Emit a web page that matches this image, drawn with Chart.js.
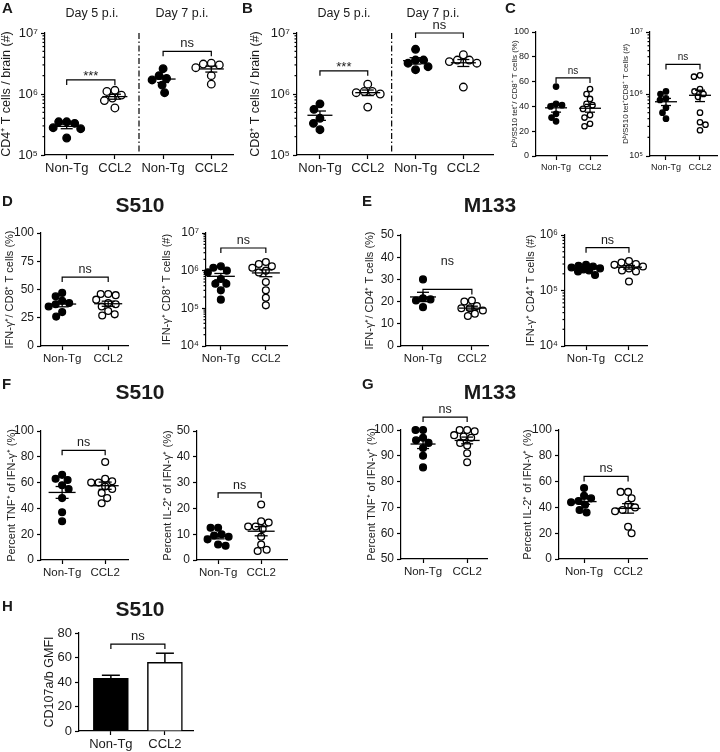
<!DOCTYPE html>
<html>
<head>
<meta charset="utf-8">
<script src="https://cdn.jsdelivr.net/npm/chart.js@4"></script>
<style>
  body { margin: 0; width: 720px; height: 752px; position: relative; overflow: hidden; background: #fff;
         font-family: "Liberation Sans", Arial, sans-serif; color: #1a1a1a; }
  canvas { position: absolute; }
  .lbl { position: absolute; white-space: nowrap; line-height: 1; }
</style>
</head>
<body>
<script>
// ---- data ----
const groups = ['Non-Tg', 'CCL2'];
const groupsDays = ['Non-Tg', 'CCL2', 'Non-Tg', 'CCL2'];

// A: CD4+ T cells / brain
const aD5NonTg = [3.3e5, 3.5e5, 3.5e5, 2.7e5, 2.8e5, 1.9e5];
const aD5Ccl2  = [1.1e6, 0.96e6, 1.15e6, 0.86e6, 0.78e6, 0.59e6];
const aD7NonTg = [2.6e6, 2.0e6, 1.8e6, 1.7e6, 1.4e6, 1.05e6];
const aD7Ccl2  = [3.2e6, 3.0e6, 3.1e6, 2.7e6, 2.0e6, 1.45e6];
// B: CD8+ T cells / brain
const bD5NonTg = [6.9e5, 5.6e5, 4.0e5, 3.3e5, 2.6e5];
const bD5Ccl2  = [1.1e6, 1.1e6, 1.05e6, 1.0e6, 1.45e6, 0.61e6];
const bD7NonTg = [5.4e6, 3.6e6, 3.6e6, 3.2e6, 2.8e6, 2.5e6];
const bD7Ccl2  = [3.6e6, 3.4e6, 3.2e6, 3.6e6, 4.4e6, 1.3e6];
// C: Db/S510 tet+ CD8+
const cPctNonTg = [56, 42, 41, 40, 34, 31, 28];
const cPctCcl2  = [54, 50, 46, 42, 41, 38, 33, 31, 26, 24];
const cNumNonTg = [1.1e6, 1.0e6, 0.85e6, 0.8e6, 0.6e6, 0.5e6, 0.4e6];
const cNumCcl2  = [2.0e6, 1.9e6, 1.2e6, 1.1e6, 1.0e6, 0.9e6, 0.5e6, 0.35e6, 0.32e6, 0.26e6];
// D: S510 IFN-g+ CD8+
const dPctNonTg = [47, 44, 40, 38, 37, 35, 30, 26];
const dPctCcl2  = [46, 46, 45, 41, 38, 37, 35, 31, 28, 27];
const dNumNonTg = [1.3e6, 1.2e6, 1.0e6, 0.9e6, 0.6e6, 0.45e6, 0.45e6, 0.3e6, 0.17e6];
const dNumCcl2  = [1.7e6, 1.5e6, 1.3e6, 1.2e6, 1.0e6, 0.9e6, 0.5e6, 0.3e6, 0.19e6, 0.12e6];
// E: M133 IFN-g+ CD4+
const ePctNonTg = [30, 21.5, 21, 20.5, 17.5];
const ePctCcl2  = [20.5, 20, 18, 17, 17, 16, 14.5, 13.5];
const eNumNonTg = [2.9e5, 2.8e5, 2.7e5, 2.6e5, 2.5e5, 2.4e5, 2.3e5, 2.2e5, 1.9e5];
const eNumCcl2  = [3.4e5, 3.2e5, 3.0e5, 2.9e5, 2.7e5, 2.5e5, 2.3e5, 2.2e5, 1.45e5];
// F: S510 TNF / IL-2 of IFN-g+
const fTnfNonTg = [63, 58, 62, 66, 55, 48, 37, 30];
const fTnfCcl2  = [76, 63, 61, 60, 60, 57, 55, 52, 48, 44];
const fIl2NonTg = [12.5, 12.5, 10, 9.5, 9, 8, 6, 5.5];
const fIl2Ccl2  = [21.5, 15, 14.5, 13, 13, 12, 9, 6, 4, 3.5];
// G: M133 TNF / IL-2 of IFN-g+
const gTnfNonTg = [100, 100, 97, 96, 95, 93, 90, 85.5];
const gTnfCcl2  = [100, 100, 99.5, 98, 97.5, 97, 95, 94, 91, 87.5];
const gIl2NonTg = [55, 49, 47, 45, 44, 42, 38, 36];
const gIl2Ccl2  = [52, 52, 47, 42, 40, 38, 37, 25, 20];
// H: CD107a/b GMFI (mean, SEM)
const hMean = [43, 56];
const hSem  = [2.5, 7.5];

const ink = '#1a1a1a';
Chart.defaults.font.family = '"Liberation Sans", Arial, sans-serif';
Chart.defaults.color = ink;
Chart.defaults.animation = false;

const supDigits = '⁰¹²³⁴⁵⁶⁷⁸⁹';
const sup = v => '10' + String(Math.round(Math.log10(v))).split('').map(d => supDigits[d]).join('');

function line(ctx, x1, y1, x2, y2) {
  ctx.beginPath(); ctx.moveTo(x1, y1); ctx.lineTo(x2, y2); ctx.stroke();
}

const figPlugin = {
  id: 'fig',
  // spread points sideways so they don't overlap (beeswarm), within a limited width
  afterDatasetsUpdate(chart, args, o) {
    if (!o.swarm) return;
    chart.data.datasets.forEach((ds, i) => {
      const els = chart.getDatasetMeta(i).data;
      const placed = [];
      const d = o.swarm;
      els.slice().sort((p, q) => p.y - q.y).forEach(el => {
        const cx = el.x;
        const pref = placed.length % 2 ? -1 : 1;
        let best = 0, bestDist = -1;
        search:
        for (let k = 0; k <= o.maxOff; k += 0.5) {
          for (const s of (k === 0 ? [0] : [pref * k, -pref * k])) {
            const md = placed.reduce((m, p) => Math.min(m, Math.hypot(p.x - cx - s, p.y - el.y)), Infinity);
            if (md >= d) { best = s; break search; }
            if (md > bestDist + 0.5) { bestDist = md; best = s; }
          }
        }
        el.x = cx + best;
        placed.push({x: el.x, y: el.y});
      });
    });
  },
  afterDatasetsDraw(chart, args, o) {
    const {ctx} = chart, xs = chart.scales.x, ys = chart.scales.y;
    ctx.save();
    ctx.strokeStyle = '#000';
    ctx.lineWidth = 1.3;
    (o.sets || []).forEach((vals, g) => {
      const n = vals.length, m = vals.reduce((s, v) => s + v, 0) / n;
      const se = Math.sqrt(vals.reduce((s, v) => s + (v - m) ** 2, 0) / (n - 1)) / Math.sqrt(n);
      const x = xs.getPixelForValue(g);
      const y = ys.getPixelForValue(m), y1 = ys.getPixelForValue(m - se), y2 = ys.getPixelForValue(m + se);
      line(ctx, x - o.mw, y, x + o.mw, y);
      line(ctx, x - o.cw, y1, x + o.cw, y1);
      line(ctx, x - o.cw, y2, x + o.cw, y2);
      line(ctx, x, y1, x, y2);
    });
    (o.errs || []).forEach((e, g) => {
      const x = xs.getPixelForValue(g);
      const y = ys.getPixelForValue(o.means[g]), y2 = ys.getPixelForValue(o.means[g] + e);
      ctx.lineWidth = 1.5;
      line(ctx, x, y, x, y2);
      line(ctx, x - o.cw, y2, x + o.cw, y2);
    });
    ctx.restore();
  },
  afterDraw(chart, args, o) {
    const {ctx, chartArea: ca} = chart, xs = chart.scales.x, ys = chart.scales.y;
    ctx.save();
    ctx.strokeStyle = '#000';
    ctx.lineWidth = 1.2;
    if (o.minor) {
      const e0 = Math.round(Math.log10(ys.min)), e1 = Math.round(Math.log10(ys.max));
      for (let e = e0; e < e1; e++) {
        for (let k = 2; k <= 9; k++) {
          const y = ys.getPixelForValue(k * 10 ** e);
          line(ctx, ca.left - 2.5, y, ca.left, y);
        }
      }
    }
    if (o.divider !== undefined) {
      ctx.setLineDash([6, 2.5, 1.5, 2.5]);
      const x = xs.getPixelForValue(o.divider);
      line(ctx, x, ca.top, x, ca.bottom);
      ctx.setLineDash([]);
    }
    (o.brackets || []).forEach(b => {
      const x1 = xs.getPixelForValue(b.a), x2 = xs.getPixelForValue(b.b), y = ys.getPixelForValue(b.y);
      ctx.beginPath();
      ctx.moveTo(x1, y + 5); ctx.lineTo(x1, y); ctx.lineTo(x2, y); ctx.lineTo(x2, y + 5);
      ctx.stroke();
      ctx.fillStyle = ink;
      ctx.font = `${o.bfs}px "Liberation Sans", Arial, sans-serif`;
      ctx.textAlign = 'center';
      if (b.ty !== undefined) {
        ctx.textBaseline = 'middle';
        ctx.fillText(b.text, (x1 + x2) / 2, ys.getPixelForValue(b.ty));
      } else {
        ctx.textBaseline = 'alphabetic';
        ctx.fillText(b.text, (x1 + x2) / 2, y - (b.text === '***' ? 0 : 4));
      }
    });
    ctx.restore();
  }
};

function txt(s, x, capTop, size, bold, center) {
  const d = document.createElement('div');
  d.className = 'lbl';
  d.textContent = s;
  d.style.left = x + 'px';
  d.style.top = (capTop - 0.12 * size) + 'px';
  d.style.fontSize = size + 'px';
  if (bold) d.style.fontWeight = 'bold';
  if (center) d.style.transform = 'translateX(-50%)';
  document.body.appendChild(d);
}

const big = {fs: 13, xfs: 13, tfs: 12.5, bfs: 13};
const mid = {fs: 12, xfs: 11.5, tfs: 11, bfs: 12.5};
const small = {fs: 9, xfs: 9, tfs: 8, bfs: 10};

const panels = [
  {...big, l: 45, t: 33, r: 233, b: 155, xmin: -0.45, xmax: 3.45, cats: groupsDays,
   sets: [aD5NonTg, aD5Ccl2, aD7NonTg, aD7Ccl2], log: true, ymin: 1e5, ymax: 1e7,
   title: 'CD4⁺ T cells / brain (#)', tx: 7, pr: 3.8, mw: 12.5, cw: 6, divider: 1.5,
   brackets: [{a: 0, b: 1, y: 1.7e6, text: '***'}, {a: 2, b: 3, y: 5e6, text: 'ns'}]},
  {...big, l: 297, t: 33, r: 493, b: 155, xmin: -0.48, xmax: 3.62, cats: groupsDays,
   sets: [bD5NonTg, bD5Ccl2, bD7NonTg, bD7Ccl2], log: true, ymin: 1e5, ymax: 1e7,
   title: 'CD8⁺ T cells / brain (#)', tx: 256, pr: 3.8, mw: 12.5, cw: 6, divider: 1.5,
   brackets: [{a: 0, b: 1, y: 2.4e6, text: '***'}, {a: 2, b: 3, y: 1e7, text: 'ns'}]},
  {...small, l: 536, t: 32, r: 607, b: 156, xmin: -0.59, xmax: 1.5, cats: groups,
   sets: [cPctNonTg, cPctCcl2], ymin: 0, ymax: 100, step: 20,
   title: 'Dᵇ/S510 tet⁺/ CD8⁺ T cells (%)', tx: 515, pr: 2.7, mw: 11, cw: 5,
   brackets: [{a: 0, b: 1, y: 63, text: 'ns'}]},
  {...small, l: 650, t: 32, r: 717, b: 156, xmin: -0.47, xmax: 1.5, cats: groups,
   sets: [cNumNonTg, cNumCcl2], log: true, ymin: 1e5, ymax: 1e7,
   title: 'Dᵇ/S510 tet⁺CD8⁺ T cells (#)', tx: 626, pr: 2.7, mw: 11, cw: 5,
   brackets: [{a: 0, b: 1, y: 3e6, text: 'ns'}]},
  {...mid, l: 41, t: 233, r: 128, b: 346, xmin: -0.46, xmax: 1.43, cats: groups,
   sets: [dPctNonTg, dPctCcl2], ymin: 0, ymax: 100, step: 25,
   title: 'IFN-γ⁺/ CD8⁺ T cells (%)', tx: 10, pr: 3.4, mw: 14, cw: 6.5,
   brackets: [{a: 0, b: 1, y: 61, text: 'ns'}]},
  {...mid, l: 206, t: 233, r: 287, b: 346, xmin: -0.33, xmax: 1.47, cats: groups,
   sets: [dNumNonTg, dNumCcl2], log: true, ymin: 1e4, ymax: 1e7,
   title: 'IFN-γ⁺ CD8⁺ T cells (#)', tx: 167, pr: 3.4, mw: 14, cw: 6.5,
   brackets: [{a: 0, b: 1, y: 4e6, text: 'ns'}]},
  {...mid, l: 401, t: 235, r: 488, b: 346, xmin: -0.45, xmax: 1.33, cats: groups,
   sets: [ePctNonTg, ePctCcl2], ymin: 0, ymax: 50, step: 10,
   title: 'IFN-γ⁺/ CD4⁺ T cells (%)', tx: 370, pr: 3.4, mw: 13, cw: 6,
   brackets: [{a: 0, b: 1, y: 25.5, text: 'ns', ty: 38}]},
  {...mid, l: 565, t: 235, r: 647, b: 346, xmin: -0.49, xmax: 1.42, cats: groups,
   sets: [eNumNonTg, eNumCcl2], log: true, ymin: 1e4, ymax: 1e6,
   title: 'IFN-γ⁺ CD4⁺ T cells (#)', tx: 531, pr: 3.4, mw: 13, cw: 6,
   brackets: [{a: 0, b: 1, y: 5.9e5, text: 'ns'}]},
  {...mid, l: 41, t: 431, r: 128, b: 560, xmin: -0.49, xmax: 1.53, cats: groups,
   sets: [fTnfNonTg, fTnfCcl2], ymin: 0, ymax: 100, step: 20,
   title: 'Percent TNF⁺ of IFN-γ⁺ (%)', tx: 12, pr: 3.4, mw: 13.5, cw: 6.5,
   brackets: [{a: 0, b: 1, y: 85, text: 'ns'}]},
  {...mid, l: 197, t: 431, r: 287, b: 560, xmin: -0.49, xmax: 1.6, cats: groups,
   sets: [fIl2NonTg, fIl2Ccl2], ymin: 0, ymax: 50, step: 10,
   title: 'Percent IL-2⁺ of IFN-γ⁺ (%)', tx: 168, pr: 3.4, mw: 13.5, cw: 6.5,
   brackets: [{a: 0, b: 1, y: 26, text: 'ns'}]},
  {...mid, l: 401, t: 430, r: 487, b: 559, xmin: -0.5, xmax: 1.45, cats: groups,
   sets: [gTnfNonTg, gTnfCcl2], ymin: 50, ymax: 100, step: 10,
   title: 'Percent TNF⁺ of IFN-γ⁺ (%)', tx: 372, pr: 3.4, mw: 12.5, cw: 6,
   brackets: [{a: 0, b: 1, y: 105, text: 'ns'}]},
  {...mid, l: 559, t: 430, r: 647, b: 559, xmin: -0.57, xmax: 1.43, cats: groups,
   sets: [gIl2NonTg, gIl2Ccl2], ymin: 0, ymax: 100, step: 20,
   title: 'Percent IL-2⁺ of IFN-γ⁺ (%)', tx: 528, pr: 3.4, mw: 12.5, cw: 6,
   brackets: [{a: 0, b: 1, y: 64, text: 'ns'}]},
  {...big, l: 79, t: 633, r: 193, b: 731, xmin: -0.59, xmax: 1.52, cats: groups,
   bars: hMean, errs: hSem, ymin: 0, ymax: 80, step: 20,
   title: 'CD107a/b GMFI', tx: 50, cw: 9,
   brackets: [{a: 0, b: 1, y: 71, text: 'ns'}]}
];

function yTicks(p) {
  const out = [];
  if (p.log) {
    for (let e = Math.round(Math.log10(p.ymin)); e <= Math.round(Math.log10(p.ymax)); e++) out.push(10 ** e);
  } else {
    for (let v = p.ymin; v <= p.ymax + 1e-9; v += p.step) out.push(v);
  }
  return out;
}

function makeChart(p) {
  const YW = Math.round(p.l - (p.tx - p.tfs * 0.6));
  const PT = 40, PR = 22, XH = 34;
  const w = p.r - p.l + YW + PR, h = p.b - p.t + PT + XH;
  const cv = document.createElement('canvas');
  cv.width = w; cv.height = h;
  cv.style.left = (p.l - YW) + 'px';
  cv.style.top = (p.t - PT) + 'px';
  cv.style.width = w + 'px'; cv.style.height = h + 'px';
  document.body.appendChild(cv);

  const axisLine = {color: '#000', width: 1.2};
  const grid = {drawOnChartArea: false, tickLength: 4, color: '#000', tickWidth: 1.2, offset: false};

  let datasets;
  if (p.bars) {
    datasets = [{
      data: p.bars.map((v, i) => ({x: i, y: v})),
      backgroundColor: ['#000', '#fff'], borderColor: '#000', borderWidth: 1.5, barThickness: 35
    }];
  } else {
    datasets = p.sets.map((vals, g) => ({
      data: vals.map(v => ({x: g, y: v})),
      showLine: false, clip: false,
      pointRadius: p.pr, pointHoverRadius: p.pr,
      pointBackgroundColor: g % 2 ? '#fff' : '#000',
      pointBorderColor: '#000', pointBorderWidth: 1.3
    }));
  }

  new Chart(cv, {
    type: p.bars ? 'bar' : 'scatter',
    data: {datasets},
    options: {
      responsive: false,
      animation: false,
      layout: {padding: {top: PT, right: PR, left: 0, bottom: 0}},
      plugins: {
        legend: {display: false},
        tooltip: {enabled: false},
        fig: {
          swarm: p.pr ? p.pr * 2 + 0.4 : 0,
          maxOff: p.mw ? p.mw + 3 : 0,
          sets: p.sets, mw: p.mw, cw: p.cw,
          errs: p.errs, means: p.bars,
          minor: !!p.log, divider: p.divider,
          brackets: p.brackets, bfs: p.bfs
        }
      },
      scales: {
        x: {
          type: 'linear', min: p.xmin, max: p.xmax, offset: false,
          afterBuildTicks: s => { s.ticks = p.cats.map((c, i) => ({value: i})); },
          afterFit: s => { s.height = XH; },
          ticks: {callback: v => p.cats[v], font: {size: p.xfs}, color: ink, padding: 2, maxRotation: 0, autoSkip: false},
          grid, border: axisLine
        },
        y: {
          type: p.log ? 'logarithmic' : 'linear', min: p.ymin, max: p.ymax,
          afterBuildTicks: s => { s.ticks = yTicks(p).map(v => ({value: v})); },
          afterFit: s => { s.width = YW; },
          ticks: {callback: v => p.log ? sup(v) : v, font: {size: p.fs}, color: ink, padding: 3, autoSkip: false},
          grid, border: axisLine,
          title: {display: true, text: p.title, font: {size: p.tfs}, color: ink, padding: 0}
        }
      }
    },
    plugins: [figPlugin]
  });
}

panels.forEach(makeChart);

// panel letters and headings
[['A', 2, 2], ['B', 242, 2], ['C', 505, 2], ['D', 2, 195], ['E', 362, 195],
 ['F', 2, 378], ['G', 362, 378], ['H', 2, 600]].forEach(([s, x, y]) => txt(s, x, y, 15, true, false));
txt('Day 5 p.i.', 92, 8, 12.5, false, true);
txt('Day 7 p.i.', 182, 8, 12.5, false, true);
txt('Day 5 p.i.', 344, 8, 12.5, false, true);
txt('Day 7 p.i.', 433, 8, 12.5, false, true);
txt('S510', 140, 197, 21, true, true);
txt('M133', 490, 197, 21, true, true);
txt('S510', 140, 384, 21, true, true);
txt('M133', 490, 384, 21, true, true);
txt('S510', 140, 601, 21, true, true);
</script>
</body>
</html>
